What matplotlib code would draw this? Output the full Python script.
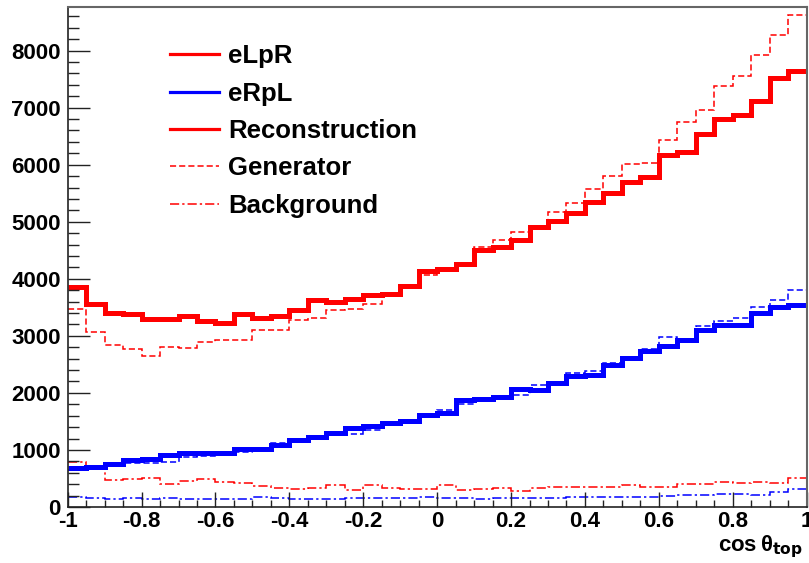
import numpy as np
import matplotlib
matplotlib.use("Agg")
import matplotlib.pyplot as plt
from matplotlib.lines import Line2D
from matplotlib.ticker import MultipleLocator, FuncFormatter

plt.rcParams["font.family"] = ["Liberation Sans", "DejaVu Sans"]
plt.rcParams["font.weight"] = "bold"
plt.rcParams["axes.unicode_minus"] = False
plt.rcParams["mathtext.default"] = "regular"

# 40 bins in cos(theta_top) from -1 to 1
n_bins, x_lo, x_hi = 40, -1.0, 1.0
edges = np.linspace(x_lo, x_hi, n_bins + 1)

# eLpR
elpr_reco = [3858, 3550, 3403, 3380, 3287, 3287, 3350, 3257, 3217, 3380,
             3310, 3350, 3450, 3637, 3596, 3650, 3713, 3735, 3880, 4138,
             4180, 4268, 4513, 4559, 4676, 4915, 5005, 5155, 5347, 5505,
             5698, 5786, 6165, 6223, 6544, 6807, 6877, 7110, 7525, 7641]
elpr_gen = [3462, 3070, 2837, 2762, 2644, 2797, 2779, 2895, 2925, 2925,
            3100, 3100, 3275, 3315, 3450, 3470, 3567, 3713, 3870, 4070,
            4180, 4280, 4560, 4676, 4822, 4921, 5165, 5336, 5581, 5797,
            6007, 6030, 6440, 6748, 6965, 7373, 7548, 7916, 8266, 8616]
elpr_bkg = [785, 690, 473, 485, 502, 395, 461, 485, 440, 415,
            360, 327, 315, 330, 380, 298, 390, 330, 315, 318,
            390, 298, 315, 338, 280, 338, 345, 345, 345, 345,
            385, 350, 345, 403, 397, 432, 415, 432, 415, 502]

# eRpL
erpl_reco = [677, 706, 753, 815, 841, 911, 951, 951, 951, 1015,
             1010, 1080, 1180, 1231, 1301, 1389, 1418, 1466, 1511, 1611,
             1641, 1874, 1891, 1921, 2061, 2049, 2166, 2294, 2312, 2487,
             2615, 2732, 2820, 2925, 3100, 3187, 3187, 3403, 3497, 3538]
erpl_gen = [648, 677, 718, 776, 765, 794, 881, 893, 911, 969,
            998, 1126, 1144, 1185, 1290, 1273, 1348, 1460, 1505, 1594,
            1699, 1798, 1885, 1930, 1961, 2137, 2195, 2341, 2387, 2527,
            2630, 2761, 2972, 2925, 3170, 3263, 3315, 3497, 3637, 3812]
erpl_bkg = [181, 152, 140, 152, 140, 152, 140, 134, 134, 134,
            170, 152, 140, 134, 140, 152, 152, 152, 152, 181,
            163, 152, 140, 163, 163, 163, 163, 181, 170, 181,
            170, 181, 198, 210, 210, 222, 222, 210, 268, 315]

y_max = 8770

RED, BLUE = "#ff0000", "#0000ff"
dash_gen = (0, (4, 2))
dash_bkg = (0, (6, 2, 1.5, 2))

fig = plt.figure(figsize=(8.09, 5.63), dpi=100)
ax = fig.add_axes([0.0837, 0.0995, 0.9133, 0.8886])

for reco, gen, bkg, col in [(elpr_reco, elpr_gen, elpr_bkg, RED),
                            (erpl_reco, erpl_gen, erpl_bkg, BLUE)]:
    ax.stairs(gen, edges, baseline=None, color=col, lw=1.1, ls=dash_gen)
    ax.stairs(bkg, edges, baseline=None, color=col, lw=1.1, ls=dash_bkg)
    ax.stairs(reco, edges, baseline=None, color=col, lw=3.6)

ax.set_xlim(x_lo, x_hi)
ax.set_ylim(0, y_max)

ax.xaxis.set_major_locator(MultipleLocator(0.2))
ax.xaxis.set_minor_locator(MultipleLocator(0.05))
ax.xaxis.set_major_formatter(FuncFormatter(lambda v, p: f"{round(v, 2) + 0:g}"))
ax.yaxis.set_major_locator(MultipleLocator(1000))
ax.yaxis.set_minor_locator(MultipleLocator(200))

ax.tick_params(axis="both", which="both", direction="in", top=False,
               right=False, color="#222222", width=1.0, labelsize=16)
ax.tick_params(axis="x", which="major", length=10.8, pad=3)
ax.tick_params(axis="x", which="minor", length=5)
ax.tick_params(axis="y", which="major", length=15.8, pad=5)
ax.tick_params(axis="y", which="minor", length=7.9)
for lab in ax.get_xticklabels() + ax.get_yticklabels():
    lab.set_fontweight("bold")

for side in ("left", "bottom"):
    ax.spines[side].set_color("#222222")
    ax.spines[side].set_linewidth(1.2)
for side in ("top", "right"):
    ax.spines[side].set_color("#666666")
    ax.spines[side].set_linewidth(1.5)

# axis title, right-aligned under the frame
fig.text(803 / 809, 0.021, r"cos$\,\theta_{\mathbf{top}}$", fontsize=16,
         fontweight="bold", ha="right", va="baseline")

handles = [
    Line2D([], [], color=RED, lw=2.3),
    Line2D([], [], color=BLUE, lw=2.3),
    Line2D([], [], color=RED, lw=2.3),
    Line2D([], [], color=RED, lw=1.1, ls=dash_gen),
    Line2D([], [], color=RED, lw=1.1, ls=dash_bkg),
]
labels = ["eLpR", "eRpL", "Reconstruction", "Generator", "Background"]
ax.legend(handles, labels, loc="upper left", bbox_to_anchor=(0.139, 0.925),
          frameon=False, prop={"size": 18.5, "weight": "bold"},
          handlelength=1.9, handletextpad=0.35, labelspacing=0.52,
          borderaxespad=0, borderpad=0)

fig.savefig("out.png", dpi=100, facecolor="white")
